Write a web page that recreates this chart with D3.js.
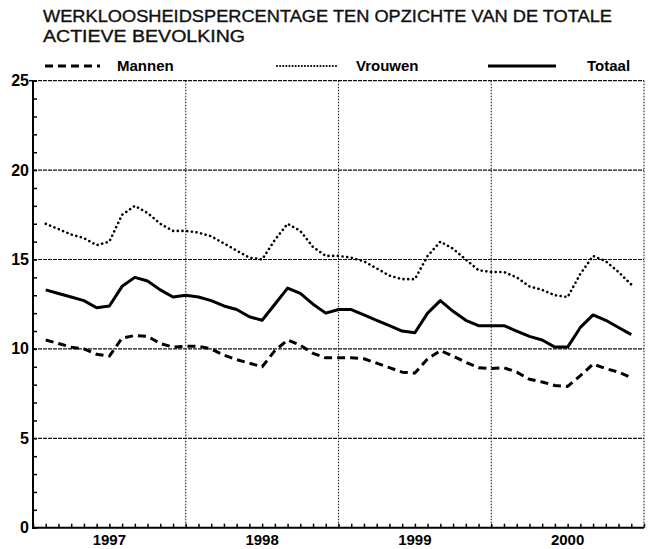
<!DOCTYPE html>
<html>
<head>
<meta charset="utf-8">
<script src="https://cdn.jsdelivr.net/npm/d3@7"></script>
<style>
  body { margin: 0; background: #fff; }
  svg { display: block; font-family: "Liberation Sans", Arial, sans-serif; }
</style>
</head>
<body>
<svg id="chart" width="648" height="549"></svg>
<script>
//
// Data (monthly, Feb 1997 - Dec 2000)
//
var years = ['1997', '1998', '1999', '2000']
var yTicks = [0, 5, 10, 15, 20, 25]

var mannen = [
  10.5, 10.3, 10.1, 10.0, 9.7, 9.6, 10.6, 10.75, 10.7, 10.3, 10.1, 10.15,
  10.15, 10.0, 9.65, 9.4, 9.2, 9.0, 9.9, 10.5, 10.2, 9.75, 9.5, 9.5,
  9.5, 9.45, 9.2, 8.95, 8.7, 8.65, 9.45, 9.9, 9.6, 9.25, 8.95, 8.9,
  8.95, 8.7, 8.3, 8.15, 7.95, 7.9, 8.5, 9.15, 8.9, 8.7, 8.4
]
var vrouwen = [
  17.0, 16.7, 16.4, 16.2, 15.8, 16.0, 17.5, 18.0, 17.6, 17.0, 16.6, 16.6,
  16.5, 16.3, 15.9, 15.5, 15.1, 15.0, 16.1, 17.0, 16.6, 15.7, 15.2, 15.2,
  15.1, 14.9, 14.5, 14.1, 13.9, 13.9, 15.2, 16.0, 15.6, 15.0, 14.4, 14.3,
  14.3, 14.0, 13.5, 13.3, 13.0, 12.9, 14.2, 15.2, 14.9, 14.3, 13.6
]
var totaal = [
  13.3, 13.1, 12.9, 12.7, 12.3, 12.4, 13.5, 14.0, 13.8, 13.3, 12.9, 13.0,
  12.9, 12.7, 12.4, 12.2, 11.8, 11.6, 12.5, 13.4, 13.1, 12.5, 12.0, 12.2,
  12.2, 11.9, 11.6, 11.3, 11.0, 10.9, 12.0, 12.7, 12.1, 11.6, 11.3, 11.3,
  11.3, 11.0, 10.7, 10.5, 10.1, 10.1, 11.2, 11.9, 11.6, 11.2, 10.8
]

var series = [
  { name: 'Mannen', values: mannen, dash: '8,5', width: 3, cap: 'butt' },
  { name: 'Vrouwen', values: vrouwen, dash: '0.1,4.6', width: 2.6, cap: 'round' },
  { name: 'Totaal', values: totaal, dash: null, width: 3, cap: 'butt' }
]

//
// Layout
//
var svg = d3.select('#chart')
var plotLeft = 33, plotRight = 644, plotTop = 80.7, plotBottom = 527.7

var x = d3.scaleLinear().domain([0, 48]).range([plotLeft, plotRight])
var y = d3.scaleLinear().domain([0, 25]).range([plotBottom, plotTop])

// title
var title = svg.append('g').attr('fill', '#111')
  .attr('stroke', '#111').attr('stroke-width', 0.35).style('font-size', '16px')
title.append('text').attr('x', 43).attr('y', 22)
  .attr('textLength', 569).attr('lengthAdjust', 'spacingAndGlyphs')
  .text('WERKLOOSHEIDSPERCENTAGE TEN OPZICHTE VAN DE TOTALE')
title.append('text').attr('x', 43).attr('y', 42)
  .attr('textLength', 202).attr('lengthAdjust', 'spacingAndGlyphs')
  .text('ACTIEVE BEVOLKING')

// gridlines
svg.append('g')
  .attr('stroke', '#111').attr('stroke-width', 1.2).attr('stroke-dasharray', '4,1')
  .selectAll('line').data(yTicks.filter(function(d) { return d > 0 }))
  .enter().append('line')
  .attr('x1', plotLeft).attr('x2', plotRight)
  .attr('y1', function(d) { return y(d) }).attr('y2', function(d) { return y(d) })
svg.append('g')
  .attr('stroke', '#222').attr('stroke-width', 1.1).attr('stroke-dasharray', '1.5,1.5')
  .selectAll('line').data([12, 24, 36, 48])
  .enter().append('line')
  .attr('y1', plotTop).attr('y2', plotBottom)
  .attr('x1', function(d) { return x(d) }).attr('x2', function(d) { return x(d) })

// minor ticks
svg.append('g').attr('transform', 'translate(' + plotLeft + ',0)')
  .call(d3.axisLeft(y).tickValues(d3.range(0, 26)).tickSize(-4).tickFormat(''))
  .call(function(g) { g.select('.domain').remove() })
  .selectAll('line').attr('stroke-width', 1.5)
svg.append('g').attr('transform', 'translate(0,' + plotBottom + ')')
  .call(d3.axisBottom(x).tickValues(d3.range(0, 49)).tickSize(-4).tickFormat(''))
  .call(function(g) { g.select('.domain').remove() })
  .selectAll('line').attr('stroke-width', 1.5)

// axis lines
svg.append('line').attr('x1', plotLeft).attr('x2', plotLeft)
  .attr('y1', plotTop).attr('y2', plotBottom + 1)
  .attr('stroke', '#000').attr('stroke-width', 2)
svg.append('line').attr('x1', plotLeft - 1).attr('x2', plotRight)
  .attr('y1', plotBottom).attr('y2', plotBottom)
  .attr('stroke', '#000').attr('stroke-width', 2)
svg.append('line').attr('x1', plotLeft - 4).attr('x2', plotLeft)
  .attr('y1', plotTop).attr('y2', plotTop)
  .attr('stroke', '#000').attr('stroke-width', 1.5)

// y labels
svg.append('g').selectAll('text').data(yTicks).enter().append('text')
  .attr('x', 29).attr('y', function(d) { return y(d) + 5.5 })
  .attr('text-anchor', 'end').attr('font-weight', 'bold').style('font-size', '16px')
  .text(function(d) { return d })

// x labels
svg.append('g').selectAll('text').data(years).enter().append('text')
  .attr('x', function(d, i) { return x(i * 12 + 6) }).attr('y', 545)
  .attr('text-anchor', 'middle').attr('font-weight', 'bold').style('font-size', '15px')
  .text(function(d) { return d })

// lines
var line = d3.line()
  .x(function(d, i) { return x(i + 1) })
  .y(function(d) { return y(d) })

svg.append('g').selectAll('path').data(series).enter().append('path')
  .attr('d', function(s) { return line(s.values) })
  .attr('fill', 'none').attr('stroke', '#000')
  .attr('stroke-width', function(s) { return s.width })
  .attr('stroke-dasharray', function(s) { return s.dash })
  .attr('stroke-linecap', function(s) { return s.cap })
  .attr('stroke-linejoin', 'round')

// legend
var legendPos = [
  { x1: 45, x2: 100, tx: 117 },
  { x1: 277, x2: 338, tx: 356 },
  { x1: 488, x2: 556, tx: 587 }
]
var legend = svg.append('g').selectAll('g').data(series).enter().append('g')
legend.append('line')
  .attr('x1', function(s, i) { return legendPos[i].x1 })
  .attr('x2', function(s, i) { return legendPos[i].x2 })
  .attr('y1', 66).attr('y2', 66)
  .attr('stroke', '#000')
  .attr('stroke-width', function(s) { return s.name === 'Vrouwen' ? 2 : 3 })
  .attr('stroke-dasharray', function(s) { return s.name === 'Vrouwen' ? '0.1,3' : s.dash })
  .attr('stroke-linecap', function(s) { return s.cap })
legend.append('text')
  .attr('x', function(s, i) { return legendPos[i].tx }).attr('y', 71)
  .attr('font-weight', 'bold').style('font-size', '15px')
  .text(function(s) { return s.name })
</script>
</body>
</html>
